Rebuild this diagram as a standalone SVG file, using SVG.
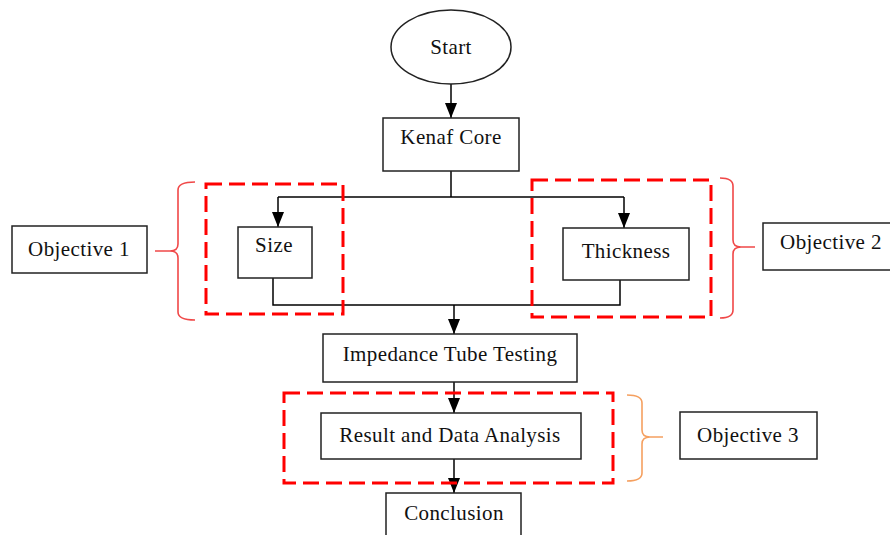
<svg xmlns="http://www.w3.org/2000/svg" width="890" height="535" viewBox="0 0 890 535">
<defs>
<marker id="ah" markerWidth="15" markerHeight="12" refX="15" refY="6" orient="auto" markerUnits="userSpaceOnUse" viewBox="0 0 15 12">
<path d="M0,0 L15,6 L0,12 Z" fill="#000"/>
</marker>
<style>
.box{fill:#fff;stroke:#222;stroke-width:1.5}
.t{font-family:"Liberation Serif","Times New Roman",serif;font-size:21px;letter-spacing:0.4px;fill:#111;text-anchor:middle}
.ln{fill:none;stroke:#000;stroke-width:1.5}
.arr{fill:none;stroke:#000;stroke-width:1.5}
.dash{fill:none;stroke:#ff0000;stroke-width:3;stroke-dasharray:16 7}
.br{fill:none;stroke:#f04848;stroke-width:1.6}
.br3{fill:none;stroke:#f5a060;stroke-width:1.6}
</style>
</defs>
<rect width="890" height="535" fill="#fff"/>

<g id="connectors">
<line class="arr" x1="451" y1="84" x2="451" y2="118" marker-end="url(#ah)"/>
<path class="ln" d="M451,171 V197"/>
<path class="ln" d="M278,197 H624"/>
<line class="arr" x1="278" y1="197" x2="278" y2="227" marker-end="url(#ah)"/>
<line class="arr" x1="624" y1="197" x2="624" y2="228" marker-end="url(#ah)"/>
<path class="ln" d="M273,278 V305 H620 V280"/>
<line class="arr" x1="454" y1="305" x2="454" y2="334" marker-end="url(#ah)"/>
<line class="arr" x1="454" y1="382" x2="454" y2="413" marker-end="url(#ah)"/>
<line class="arr" x1="454" y1="459" x2="454" y2="493" marker-end="url(#ah)"/>
</g>

<g id="start">
<ellipse cx="451" cy="47" rx="60" ry="37" fill="#fff" stroke="#222" stroke-width="1.5"/>
<text class="t" x="451" y="54">Start</text>
</g>
<g id="kenaf">
<rect class="box" x="383" y="118" width="136" height="53"/>
<text class="t" x="451" y="144">Kenaf Core</text>
</g>
<g id="size">
<rect class="box" x="238" y="227" width="74" height="51"/>
<text class="t" x="274" y="252">Size</text>
</g>
<g id="thickness">
<rect class="box" x="563" y="228" width="126" height="52"/>
<text class="t" x="626" y="258">Thickness</text>
</g>
<g id="impedance">
<rect class="box" x="323" y="334" width="254" height="48"/>
<text class="t" x="450" y="361">Impedance Tube Testing</text>
</g>
<g id="result">
<rect class="box" x="321" y="413" width="260" height="46"/>
<text class="t" x="450" y="442">Result and Data Analysis</text>
</g>
<g id="conclusion">
<rect class="box" x="386" y="493" width="135" height="50"/>
<text class="t" x="454" y="520">Conclusion</text>
</g>

<g id="objective1">
<rect class="box" x="12" y="226" width="135" height="47"/>
<text class="t" x="79" y="256">Objective 1</text>
</g>
<g id="objective2">
<rect class="box" x="763" y="223" width="128" height="47"/>
<text class="t" x="831" y="249">Objective 2</text>
</g>
<g id="objective3">
<rect class="box" x="680" y="412" width="137" height="47"/>
<text class="t" x="748" y="442">Objective 3</text>
</g>

<g id="group1">
<rect class="dash" x="206" y="184" width="137" height="130"/>
<path class="br" d="M195,182 Q178,182 178,190 V244 Q178,251 170,251 H155 M170,251 Q178,251 178,258 V312 Q178,320 195,320"/>
</g>
<g id="group2">
<rect class="dash" x="532" y="180" width="179" height="137"/>
<path class="br" d="M720,178 Q733,178 733,186 V240 Q733,247 741,247 H755 M741,247 Q733,247 733,254 V310 Q733,318 720,318"/>
</g>
<g id="group3">
<rect class="dash" x="284" y="393" width="329" height="90"/>
<path class="br3" d="M627,395 Q642,395 642,403 V430 Q642,437 650,437 H663 M650,437 Q642,437 642,444 V473 Q642,481 627,481"/>
</g>
</svg>
